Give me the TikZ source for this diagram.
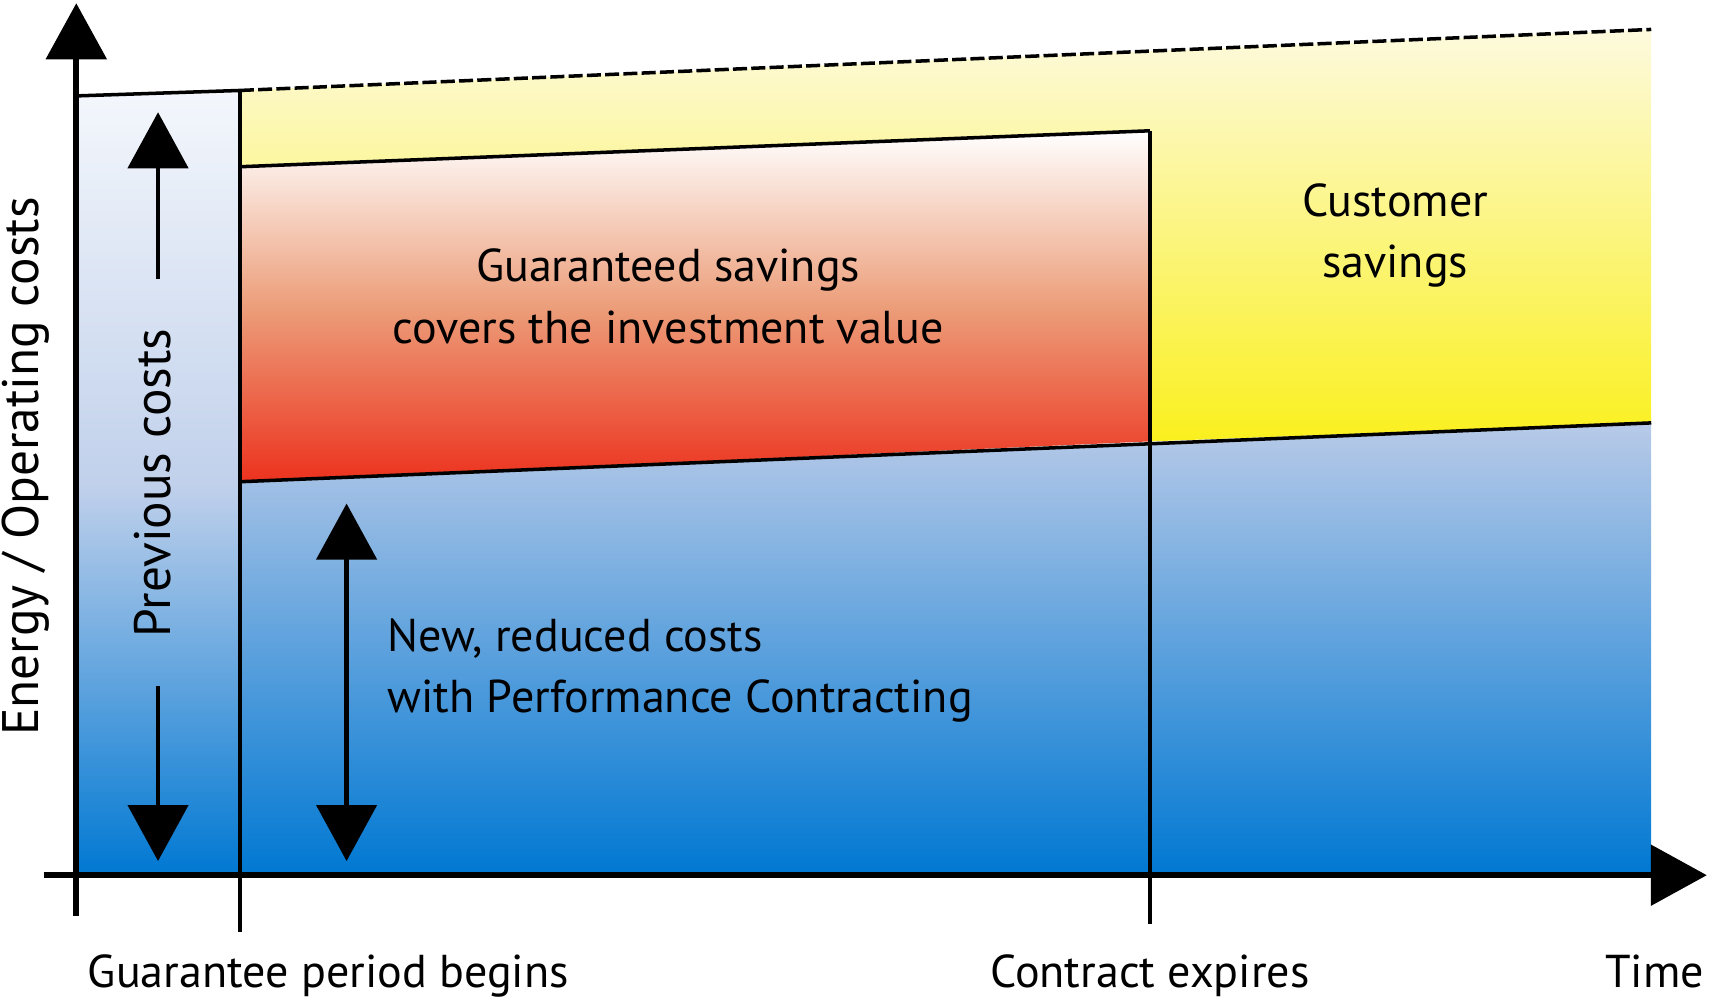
\documentclass[tikz,border=0pt]{standalone}
\usepackage{fontspec}
\setmainfont{PT Sans}
\usepackage{tikz}
\usetikzlibrary{arrows.meta,positioning}

\definecolor{colTop}{RGB}{244,247,252}
\definecolor{regBlue}{RGB}{0,120,210}
\definecolor{regLight}{RGB}{184,202,232}
\definecolor{ylTop}{RGB}{253,250,222}
\definecolor{ylBot}{RGB}{250,240,30}
\definecolor{orMid}{RGB}{236,158,122}
\definecolor{orBot}{RGB}{236,50,30}

\tikzset{
  lbl/.style={font=\fontsize{13.1}{17.5}\selectfont, align=center, inner sep=0pt},
  vlbl/.style={font=\fontsize{14.6}{17.5}\selectfont, inner sep=0pt, rotate=90},
  bigtip/.style={-{Triangle[length=0.56cm,width=0.6cm]}},
  axis/.style={line width=1.6pt},
  edge/.style={line width=1pt},
}

\begin{document}
\begin{tikzpicture}[x=0.0109cm, y=-0.0109cm]
\useasboundingbox (0,0) rectangle (1568,918);
% corners of the areas
\coordinate (orig) at (70,803);
\coordinate (colTL) at (70,88);
\coordinate (colTR) at (220,83);
\coordinate (colBR) at (220,803);
\coordinate (prevEnd) at (1515,27);
\coordinate (gsTL) at (220,153);
\coordinate (gsTR) at (1055,120);
\coordinate (gsBR) at (1055,405);
\coordinate (gsBL) at (220,442);
\coordinate (newEnd) at (1515,388);
\coordinate (newBR) at (1515,803);
\coordinate (tickA) at (220,855);
\coordinate (tickB) at (1055,848);
\coordinate (xStart) at (40,803);
\coordinate (xEnd) at (1566,803);
\coordinate (yStart) at (70,840);
\coordinate (yEnd) at (70,3);
% filled areas
\shade[top color=colTop, bottom color=regBlue, middle color=regLight!85!colTop] (colTL) -- (colTR) -- (colBR) -- (orig) -- cycle;
\shade[top color=ylTop, bottom color=ylBot] (colTR) -- (prevEnd) -- (newEnd) -- (gsBR) -- (gsTR) -- (gsTL) -- cycle;
\shade[top color=white, bottom color=orBot, middle color=orMid] (gsTL) -- (gsTR) -- (gsBR) -- (gsBL) -- cycle;
\shade[top color=regLight, bottom color=regBlue] (gsBL) -- (newEnd) -- (newBR) -- (colBR) -- cycle;
% outlines
\draw[edge] (colTL) -- (colTR);
\draw[edge, dash pattern=on 4pt off 1.2pt] (colTR) -- (prevEnd);
\draw[edge] (gsTL) -- (gsTR);
\draw[edge] (gsBL) -- (newEnd);
\draw[edge] (colTR) -- (tickA);
\draw[edge] (gsTR) -- (tickB);
\draw[axis, bigtip] (xStart) -- (xEnd);
\draw[axis, bigtip] (yStart) -- (yEnd);
% labels
\node[vlbl] (axisY) at (24,428) {Energy / Operating costs};
\node[lbl, anchor=base west] (begins) at (80,906) {Guarantee period begins};
\node[lbl, anchor=base] (expires) at (1055,906) {Contract expires};
\node[lbl, anchor=base east] (time) at (1564,906) {Time};
\node[lbl] (guaranteed) at (613,272) {Guaranteed savings\\covers the investment value};
\node[lbl] (customer) at (1280,216) {Customer\\savings};
\node[lbl, align=left, anchor=west] (newcosts) at (355,615) {New, reduced costs\\with Performance Contracting};
\node[vlbl, outer xsep=14pt] (prev) at (140,443) {Previous costs};
% arrows
\coordinate (prevUp) at (145,103);
\coordinate (prevDown) at (145,790);
\coordinate (newUp) at (318,462);
\coordinate (newDown) at (318,790);
\draw[line width=1.3pt, bigtip] (prev.east -| prevUp) -- (prevUp);
\draw[line width=1.3pt, bigtip] (prev.west -| prevDown) -- (prevDown);
\draw[line width=1.3pt, {Triangle[length=0.56cm,width=0.6cm]}-{Triangle[length=0.56cm,width=0.6cm]}] (newUp) -- (newDown);
\end{tikzpicture}
\end{document}
